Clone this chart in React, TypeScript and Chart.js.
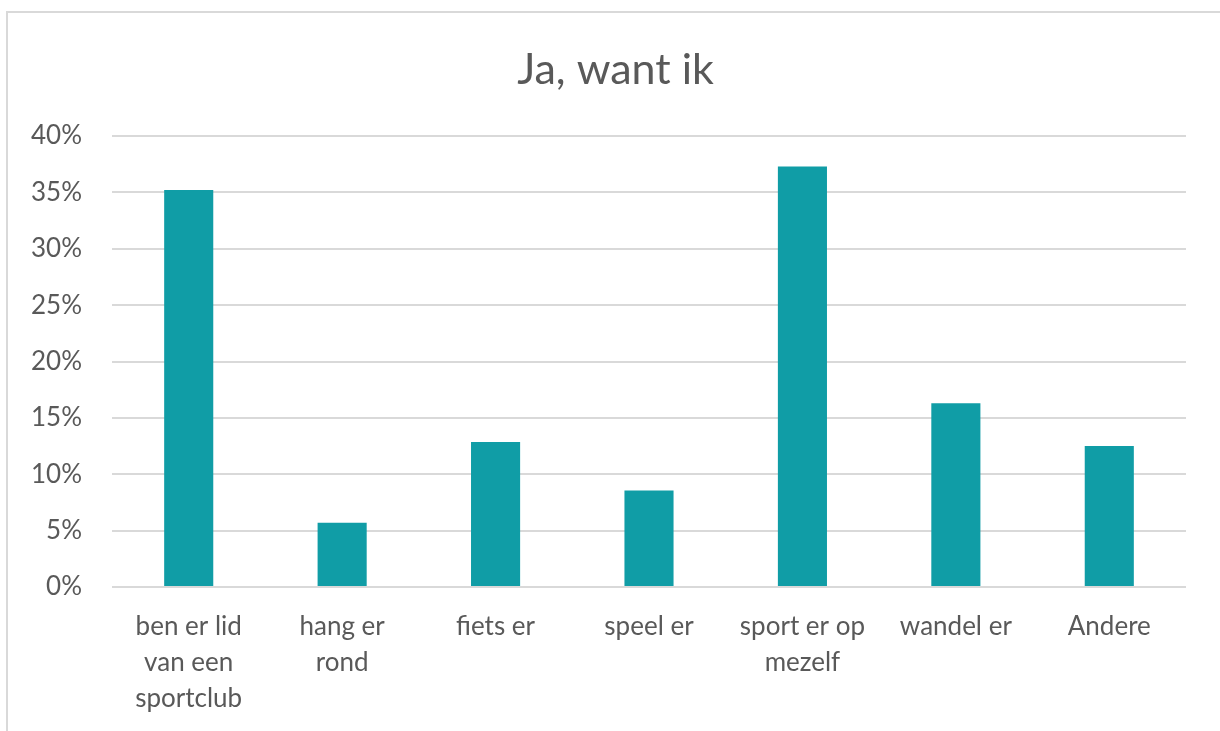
import React, { useEffect, useRef } from "react";
import { Chart, registerables } from "chart.js";

Chart.register(...registerables);

const categories: (string | string[])[] = [
  ["ben er lid", "van een", "sportclub"],
  ["hang er", "rond"],
  "fiets er",
  "speel er",
  ["sport er op", "mezelf"],
  "wandel er",
  "Andere",
];
const values: number[] = [35.2, 5.7, 12.85, 8.55, 37.3, 16.3, 12.5];
const yTicks: number[] = [0, 5, 10, 15, 20, 25, 30, 35, 40];
const title = "Ja, want ik";

const FONT = "Lato, 'Open Sans', sans-serif";
const TEXT = "#595959";
const GRID = "#D9D9D9";
const BAR = "#109DA6";

const framePlugin = {
  id: "frame",
  beforeDraw(chart: any) {
    const ctx = chart.ctx;
    ctx.save();
    ctx.fillStyle = "#ffffff";
    ctx.fillRect(0, 0, chart.width, chart.height);
    ctx.strokeStyle = GRID;
    ctx.lineWidth = 2;
    ctx.strokeRect(7, 12, chart.width + 20, chart.height + 20);
    ctx.restore();
  },
  afterDraw(chart: any) {
    const ctx = chart.ctx;
    ctx.save();
    ctx.fillStyle = TEXT;
    ctx.font = `43px ${FONT}`;
    ctx.textAlign = "center";
    ctx.textBaseline = "middle";
    ctx.fillText(title, 615.5, 70);
    ctx.restore();
  },
};

export default function App() {
  const ref = useRef<HTMLCanvasElement | null>(null);
  useEffect(() => {
    if (!ref.current) return;
    const chart = new Chart(ref.current, {
      type: "bar",
      data: {
        labels: categories,
        datasets: [
          {
            data: values,
            backgroundColor: BAR,
            borderWidth: 0,
            barPercentage: 0.32,
            categoryPercentage: 1,
          },
        ],
      },
      plugins: [framePlugin],
      options: {
        responsive: false,
        animation: false,
        layout: { padding: { left: 0, right: 34, top: 136, bottom: 0 } },
        plugins: {
          legend: { display: false },
          tooltip: { enabled: false },
          title: { display: false },
        },
        scales: {
          x: {
            grid: { display: false, drawTicks: false },
            border: { display: false },
            ticks: {
              color: TEXT,
              font: { family: FONT, size: 26, lineHeight: 1.385 },
              padding: 22,
              maxRotation: 0,
              autoSkip: false,
            },
            afterFit(scale: any) {
              scale.height = 144;
            },
          },
          y: {
            min: 0,
            max: 40,
            afterBuildTicks(scale: any) {
              scale.ticks = yTicks.map((v) => ({ value: v }));
            },
            grid: { color: GRID, lineWidth: 2, drawTicks: false },
            border: { display: false },
            ticks: {
              color: TEXT,
              font: { family: FONT, size: 26 },
              padding: 30,
              callback: (v: any) => v + "%",
            },
            afterFit(scale: any) {
              scale.width = 112;
            },
          },
        },
      },
    } as any);
    return () => chart.destroy();
  }, []);
  return (
    <div style={{ position: "fixed", left: 0, top: 0, width: 1220, height: 731, background: "#fff" }}>
      <canvas ref={ref} width={1220} height={731} style={{ display: "block" }} />
    </div>
  );
}
